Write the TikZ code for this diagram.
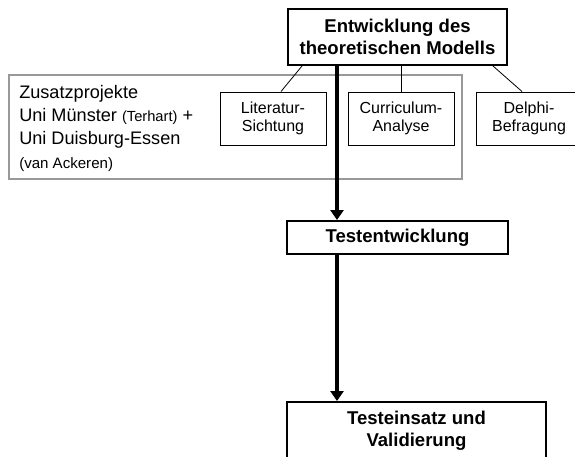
\documentclass[tikz,border=0pt]{standalone}
\usepackage{fontspec}
\setmainfont{Liberation Sans}
\usetikzlibrary{arrows.meta,calc}

\begin{document}
\begin{tikzpicture}[
x=0.75pt,y=-0.75pt,
node distance=96pt
%,scale=1, every node/.style={transform shape}
]

  \tikzstyle{phase}=[draw,line width=1.5pt,align=center,inner sep=0pt,font=\bfseries\fontsize{13.9}{16.5}\selectfont]
  \tikzstyle{source}=[draw,line width=0.75pt,align=center,inner sep=0pt,minimum width=79.5pt,minimum height=39.75pt,font=\fontsize{12}{14}\selectfont]
  \tikzstyle{flow}=[line width=2.6pt,-{Triangle[width=9.75pt,length=7.5pt]}]
  \tikzstyle{link}=[line width=0.6pt]
  \tikzstyle{extra}=[draw=black!40,line width=2pt]

  \useasboundingbox (0,0) rectangle (575,457);

  \node (mod) [phase,minimum width=164.25pt,minimum height=42pt] at (397.5,37) {Entwicklung des\\theoretischen Modells};

  % Zusatzprojekte
  \draw [extra] (9,75) rectangle (462,179);
  \node (zus) [anchor=north west,inner sep=0pt,align=left,font=\fontsize{13.6}{17.4}\selectfont] at (19,85)
    {Zusatzprojekte\\Uni Münster {\fontsize{11}{13}\selectfont(Terhart)} +\\Uni Duisburg-Essen\\{\fontsize{11.3}{17.4}\selectfont(van Ackeren)}};

  \node (lit) [source] at (273,118.5) {Literatur-\\Sichtung};
  \node (cur) [source,right of=lit] {Curriculum-\\Analyse};
  \node (del) [source,right of=cur] {Delphi-\\Befragung};

  \draw [link] ($(mod.south west)+(15,0)$) -- ($(lit.north)+(8,0)$);
  \draw [link] (cur.north) -- (cur.north |- mod.south);
  \draw [link] ($(mod.south east)+(-15,0)$) -- ($(del.north)+(-7,0)$);

  \node (dev) [phase,minimum width=165.75pt,minimum height=24.75pt,node distance=150.4pt,below of=mod] {Testentwicklung};
  \node (val) [phase,minimum width=194.25pt,minimum height=42.75pt,node distance=144.75pt,below of=dev,xshift=14.25pt] {Testeinsatz und\\Validierung};

  \coordinate (axis) at (337,0);
  \draw [flow] (mod.south -| axis) -- (dev.north -| axis);
  \draw [flow] (dev.south -| axis) -- (val.north -| axis);

\end{tikzpicture}
\end{document}
